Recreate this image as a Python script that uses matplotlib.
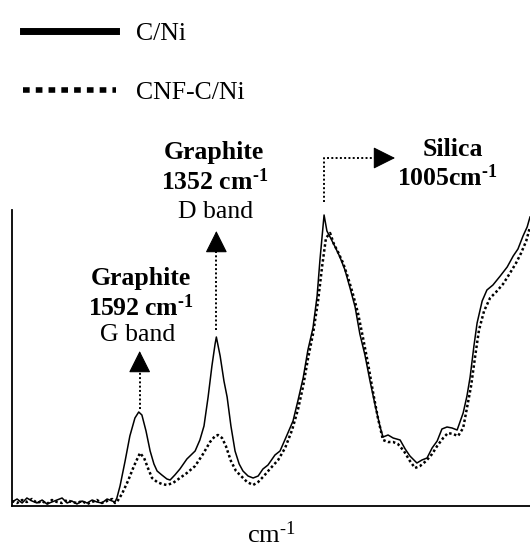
import matplotlib
matplotlib.use("Agg")
import matplotlib.pyplot as plt
from matplotlib.lines import Line2D

plt.rcParams['font.family'] = ['Liberation Serif', 'DejaVu Serif']
plt.rcParams['mathtext.fontset'] = 'custom'
plt.rcParams['mathtext.rm'] = 'Liberation Serif'
plt.rcParams['mathtext.bf'] = 'Liberation Serif:bold'
plt.rcParams['mathtext.it'] = 'Liberation Serif:italic'

# Raman shift (cm-1) and intensity (a.u.)
wn_cni = [1995, 1979, 1963, 1948, 1932, 1916, 1900, 1885, 1869, 1853, 1837, 1821, 1806, 1790,
          1774, 1758, 1742, 1727, 1711, 1695, 1679, 1670,
          1664, 1654, 1638, 1623, 1607, 1595, 1585, 1572, 1559, 1547, 1537, 1522, 1506, 1496,
          1481, 1465, 1443, 1417, 1402, 1389, 1376, 1364, 1354, 1350, 1338, 1326, 1316, 1304,
          1291, 1278, 1266, 1250, 1234, 1218, 1203, 1187, 1165, 1149, 1127, 1108, 1092, 1076,
          1061, 1045, 1032, 1023, 1010, 1001, 991, 975, 960, 944, 928, 912, 897, 881, 865, 849,
          833, 824, 808, 792, 770, 754, 739, 717, 701, 685, 669, 653, 638, 622, 606, 590, 571,
          559, 549, 537, 527, 511, 496, 477, 454, 432, 413, 398, 382, 369, 360]
int_cni = [4, 7, 3, 8, 5, 3, 6, 2, 4, 6, 8, 3, 5, 2, 5, 3, 6, 4, 3, 7, 5, 4,
           8, 20, 45, 70, 88, 94, 91, 75, 55, 42, 35, 31, 27, 26, 31, 37, 47, 55, 66, 80,
           109, 140, 162, 169, 150, 125, 109, 80, 55, 42, 35, 30, 28, 30, 37, 41, 51, 55,
           71, 85, 106, 128, 156, 178, 210, 246, 291, 275, 269, 259, 249, 236, 218, 199,
           172, 151, 125, 101, 79, 69, 71, 68, 66, 57, 50, 43, 46, 48, 58, 65, 77, 79, 78,
           76, 93, 110, 129, 160, 183, 205, 216, 221, 230, 239, 250, 257, 270, 279, 289]

wn_cnf = [1995, 1979, 1963, 1948, 1932, 1916, 1900, 1885, 1869, 1853, 1837, 1821, 1806, 1790,
          1774, 1758, 1742, 1727, 1711, 1695, 1679, 1670,
          1664, 1648, 1629, 1610, 1591, 1578, 1566, 1553, 1537, 1522, 1506, 1487, 1465, 1443,
          1417, 1392, 1370, 1354, 1345, 1332, 1320, 1304, 1288, 1272, 1253, 1234, 1218, 1200,
          1181, 1155, 1133, 1111, 1092, 1076, 1061, 1045, 1029, 1016, 1004, 991, 979, 966,
          950, 934, 919, 903, 887, 871, 855, 840, 824, 808, 792, 777, 758, 739, 723, 707,
          688, 669, 653, 634, 619, 603, 587, 571, 559, 546, 533, 521, 505, 486, 467, 445,
          423, 404, 388, 372, 360]
int_cnf = [5, 3, 6, 4, 7, 3, 5, 2, 6, 4, 3, 6, 4, 3, 5, 2, 4, 6, 3, 5, 7, 3,
           4, 12, 25, 40, 53, 48, 38, 28, 24, 22, 21, 23, 28, 33, 40, 52, 64, 70, 71, 68,
           60, 45, 35, 30, 24, 21, 24, 30, 37, 46, 58, 76, 97, 120, 147, 172, 205, 240, 268,
           273, 262, 254, 243, 228, 212, 193, 168, 142, 113, 88, 66, 64, 64, 62, 55, 45, 38,
           40, 45, 52, 60, 68, 73, 72, 70, 78, 98, 120, 150, 176, 195, 208, 214, 222, 233,
           243, 253, 265, 279]

series_names = ['C/Ni', 'CNF-C/Ni']

fig = plt.figure(figsize=(5.30, 5.48), dpi=100)
ax = fig.add_axes([12 / 530, 42 / 548, 518 / 530, 296 / 548])

ax.plot(wn_cni, int_cni, color='black', lw=1.1, label=series_names[0])
ax.plot(wn_cnf, int_cnf, color='black', lw=1.8, ls=(0, (1, 1)), label=series_names[1])

ax.set_xlim(1995, 360)
ax.set_ylim(0, 296)
ax.spines['top'].set_visible(False)
ax.spines['right'].set_visible(False)
ax.spines['left'].set_linewidth(1.3)
ax.spines['bottom'].set_linewidth(1.3)
ax.set_xticks([])
ax.set_yticks([])
ax.set_xlabel('cm$^{\u2010 1}$', fontsize=19, labelpad=11)

# legend (thick proxy lines like the original)
handles = [Line2D([], [], color='black', lw=5),
           Line2D([], [], color='black', lw=4, ls=(0, (1.2, 1.1)))]
fig.legend(handles, series_names, loc='upper left', bbox_to_anchor=(23 / 530, 1 - 22 / 548),
           frameon=False, fontsize=18.5, handlelength=3.6, handletextpad=0.8,
           labelspacing=1.42, borderpad=0, borderaxespad=0)

# peak annotations: dotted shaft + solid head
dots = dict(color='black', lw=1.4, ls=(0, (1, 1.2)), clip_on=False)
head = dict(arrowstyle='-|>,head_length=0.7,head_width=0.35', color='black', lw=0.8,
            mutation_scale=20, shrinkA=0, shrinkB=0)
fs = 18.5

ax.plot([1592, 1592], [97, 142], **dots)
ax.annotate('', xy=(1592, 155), xytext=(1592, 140), arrowprops=head, annotation_clip=False)
ax.text(1588, 228, 'Graphite', ha='center', va='center', fontsize=fs, fontweight='bold')
ax.text(1588, 198, '1592 cm$^{\\mathbf{\u2010 1}}$', ha='center', va='center', fontsize=fs,
        fontweight='bold')
ax.text(1600, 171, 'G band', ha='center', va='center', fontsize=fs)

ax.plot([1350, 1350], [176, 262], **dots)
ax.annotate('', xy=(1350, 275), xytext=(1350, 260), arrowprops=head, annotation_clip=False)
ax.text(1357, 354, 'Graphite', ha='center', va='center', fontsize=fs, fontweight='bold')
ax.text(1357, 324, '1352 cm$^{\\mathbf{\u2010 1}}$', ha='center', va='center', fontsize=fs,
        fontweight='bold')
ax.text(1354, 294, 'D band', ha='center', va='center', fontsize=fs)

ax.plot([1010, 1010, 830], [304, 348, 348], **dots)
ax.annotate('', xy=(786, 348), xytext=(834, 348), arrowprops=head, annotation_clip=False)
ax.text(603, 356, 'Silica', ha='center', va='center', fontsize=fs, fontweight='bold')
ax.text(622, 328, '1005cm$^{\\mathbf{\u2010 1}}$', ha='center', va='center', fontsize=fs,
        fontweight='bold')

fig.savefig('out.png', dpi=100)
